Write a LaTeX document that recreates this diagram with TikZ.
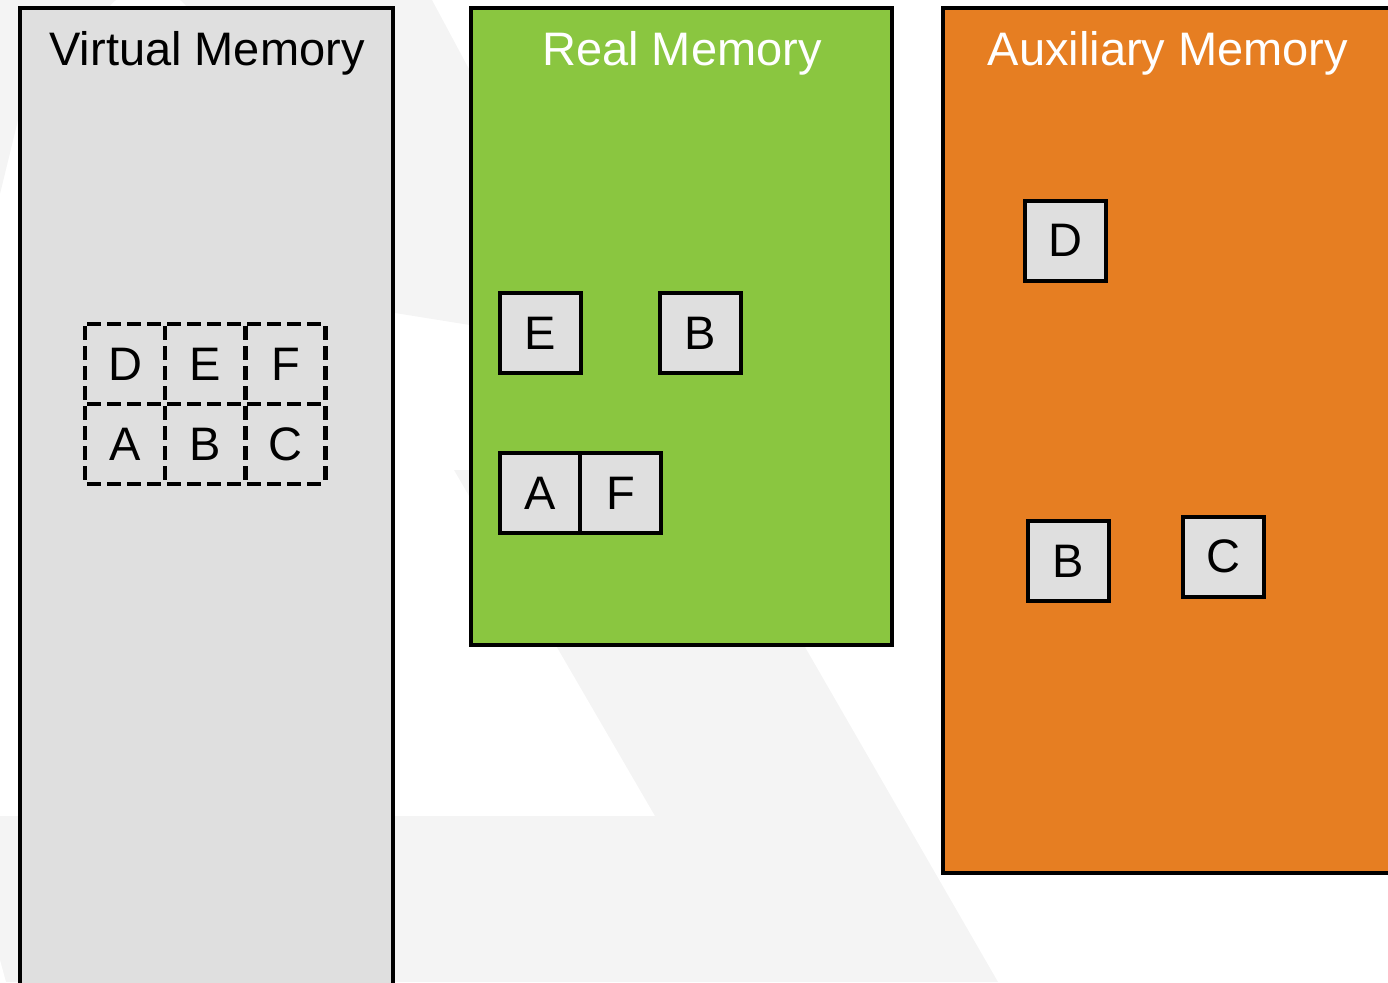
\documentclass[tikz,border=0pt]{standalone}
\usepackage{fontspec}
\setmainfont{Liberation Sans}
\definecolor{wm}{HTML}{F4F4F4}
\definecolor{vgray}{HTML}{DFDFDF}
\definecolor{rgreen}{HTML}{8AC640}
\definecolor{aorange}{HTML}{E67E22}
\tikzset{
  membox/.style={draw=black, line width=4pt, inner sep=0pt, outer sep=0pt, anchor=north west},
  memtitle/.style={anchor=base, inner sep=0pt, font=\fontsize{47}{56}\selectfont},
  cell/.style={draw=black, line width=4pt, fill=vgray, minimum width=81, minimum height=80, inner sep=0pt, font=\fontsize{47}{56}\selectfont},
  vcell/.style={minimum width=80, minimum height=80, inner sep=0pt, outer sep=0pt, font=\fontsize{47}{56}\selectfont},
  vline/.style={draw=black, line width=4.2pt, dash pattern=on 14pt off 6pt, dash phase=-2pt}
}
\begin{document}
\begin{tikzpicture}[x=1pt,y=-1pt]
\useasboundingbox (0,0) rectangle (1388,982);
\clip (0,0) rectangle (1388,982);
% watermark
\fill[wm] (0,0) -- (432,0) -- (619,349) -- (395,313) -- (20,112) -- (0,194) -- cycle;
\fill[white] (148,38.5) circle (50);
\fill[wm] (454,470) -- (703,470) -- (998,982) -- (0,982) -- (0,816) -- (655,816) -- cycle;
\fill[white] (0,960) -- (6,982) -- (0,982) -- cycle;
% memory boxes
\node[membox, fill=vgray, minimum width=373, minimum height=1000] (virt) at (20,8) {};
\node[membox, fill=rgreen, minimum width=421, minimum height=637] (real) at (471,8) {};
\node[membox, fill=aorange, minimum width=480, minimum height=865] (aux) at (943,8) {};
\node[memtitle, text=black] (virtT) at (207,66) {Virtual Memory};
\node[memtitle, text=white] (realT) at (682,66) {Real Memory};
\node[memtitle, text=white] (auxT) at (1168,66) {Auxiliary Memory};
% virtual pages
\node[vcell] (vD) at (125,364) {D};
\node[vcell] (vE) at (205,364) {E};
\node[vcell] (vF) at (285.5,364) {F};
\node[vcell] (vA) at (125,444) {A};
\node[vcell] (vB) at (205,444) {B};
\node[vcell] (vC) at (285.5,444) {C};
\draw[vline] (vD.north west) -- (vF.north east);
\draw[vline] (vA.north west) -- (vC.north east);
\draw[vline] (vA.south west) -- (vC.south east);
\draw[vline] (vD.north west) -- (vA.south west);
\draw[vline] (vE.north west) -- (vB.south west);
\draw[vline] (vF.north west) -- (vC.south west);
\draw[vline] (vF.north east) -- (vC.south east);
% real memory pages
\node[cell] (rE) at (540.5,333) {E};
\node[cell] (rB) at (700.5,333) {B};
\node[cell] (rA) at (540,493) {A};
\node[cell] (rF) at (620.5,493) {F};
% auxiliary memory pages
\node[cell] (aD) at (1065.5,240.5) {D};
\node[cell] (aB) at (1068.5,561) {B};
\node[cell] (aC) at (1223.5,556.5) {C};
\end{tikzpicture}
\end{document}
